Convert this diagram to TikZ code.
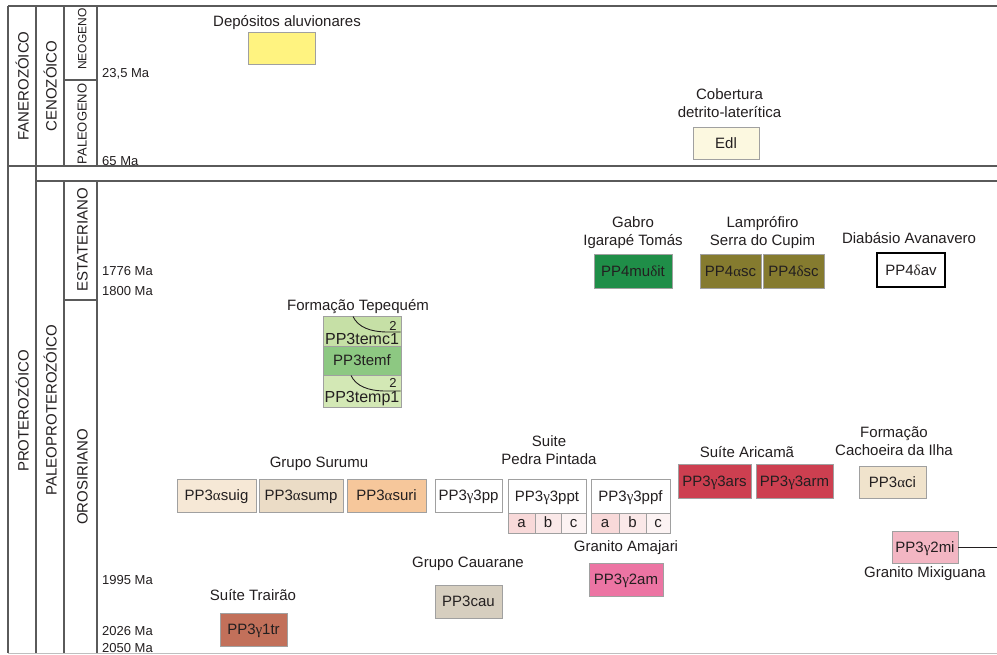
\documentclass[tikz,border=0pt]{standalone}
\usepackage{fontspec}
\setmainfont{Liberation Sans}
\newfontfamily\grk{Liberation Serif}
\newcommand\GrA{{\grk α}}
\newcommand\GrG{{\grk γ}}
\newcommand\GrD{{\grk δ}}
\newcommand\twoline[2]{\begin{tabular}[b]{@{}c@{}}\smash{#1}\\\smash{#2}\end{tabular}}
\definecolor{txt}{HTML}{231F20}
\definecolor{bgrey}{HTML}{A0A0A0}
\definecolor{frm}{HTML}{5A5A5A}
\definecolor{cYel}{HTML}{FFF380}
\definecolor{cEdl}{HTML}{FCF8E0}
\definecolor{cGab}{HTML}{1F8E48}
\definecolor{cLam}{HTML}{857B2F}
\definecolor{cTc}{HTML}{C6E0A6}
\definecolor{cTf}{HTML}{8DC882}
\definecolor{cTp}{HTML}{D3E8B5}
\definecolor{cSuig}{HTML}{F6E8D6}
\definecolor{cSump}{HTML}{EBDCC6}
\definecolor{cSuri}{HTML}{F6C79B}
\definecolor{cA}{HTML}{F8D9D9}
\definecolor{cB}{HTML}{FAE8E8}
\definecolor{cC}{HTML}{FCF3F3}
\definecolor{cAm}{HTML}{EC74A3}
\definecolor{cCau}{HTML}{D6CEBF}
\definecolor{cTr}{HTML}{C2705A}
\definecolor{cAr}{HTML}{CD3F50}
\definecolor{cCi}{HTML}{F0E3CC}
\definecolor{cMi}{HTML}{F3B6C3}
\begin{document}
\begin{tikzpicture}[x=1pt,y=-1pt,
  hline/.style={draw=frm,line width=1.8pt},
  vline/.style={draw=frm,line width=1.2pt},
  era/.style={rotate=90,inner sep=0pt,text height=11pt,text depth=0pt,font=\fontsize{15}{18}\selectfont,text=txt},
  ma/.style={anchor=base west,inner sep=0pt,font=\fontsize{13}{15}\selectfont,text=txt},
  lab/.style={anchor=base,inner sep=0pt,font=\fontsize{15}{18}\selectfont,text=txt},
  unit/.style={draw=bgrey,line width=0.7pt,inner sep=0pt,text height=10.5pt,text depth=0pt,
    font=\fontsize{15}{18}\selectfont,text=txt},
  cell/.style={unit,text height=8pt},
  arcline/.style={draw=txt,line width=0.9pt},
  sup2/.style={anchor=base,inner sep=0pt,font=\fontsize{13}{15}\selectfont,text=txt}]
\useasboundingbox (0,0) rectangle (997,654);
\fill[white] (0,0) rectangle (997,654);
% frame
\draw[hline] (8,6) -- (997,6);
\draw[hline] (8,166) -- (997,166);
\draw[hline] (36,181) -- (997,181);
\draw[draw=black!25,line width=1pt] (8,653) -- (997,653);
\draw[vline] (8,6) -- (8,653);
\draw[vline] (36,6) -- (36,653);
\draw[vline] (64,6) -- (64,166) (64,181) -- (64,653);
\draw[vline] (97,6) -- (97,166) (97,181) -- (97,653);
\draw[vline] (64,80) -- (97,80);
\draw[vline] (64,300) -- (97,300);
% eras
\node[era] (fan) at (23,86) {FANEROZÓICO};
\node[era] (cen) at (51,86) {CENOZÓICO};
\node[era,text height=8.6pt,font=\fontsize{12}{14}\selectfont] (neo) at (82,39) {NEOGENO};
\node[era,text height=9.3pt,font=\fontsize{13}{15}\selectfont] (pal) at (82,124) {PALEOGENO};
\node[era] (pro) at (23,411) {PROTEROZÓICO};
\node[era] (ppr) at (51,410) {PALEOPROTEROZÓICO};
\node[era] (est) at (82,240) {ESTATERIANO};
\node[era] (oro) at (82,477) {OROSIRIANO};
% ages
\node[ma] (m1) at (102,77) {23,5 Ma};
\node[ma] (m2) at (102,165) {65 Ma};
\node[ma] (m3) at (102,275) {1776 Ma};
\node[ma] (m4) at (102,295) {1800 Ma};
\node[ma] (m5) at (102,584) {1995 Ma};
\node[ma] (m6) at (102,635) {2026 Ma};
\node[ma] (m7) at (102,652) {2050 Ma};
% labels
\node[lab] (ldep) at (287,26) {Depósitos aluvionares};
\node[lab] (lcob) at (729.5,117) {\twoline{Cobertura}{detrito-laterítica}};
\node[lab] (lgab) at (633,245) {\twoline{Gabro}{Igarapé Tomás}};
\node[lab] (llam) at (762.5,245) {\twoline{Lamprófiro}{Serra do Cupim}};
\node[lab] (ldia) at (909,243) {Diabásio Avanavero};
\node[lab] (ltep) at (358,310) {Formação Tepequém};
\node[lab] (lsur) at (319,467.5) {Grupo Surumu};
\node[lab] (lped) at (549,464) {\twoline{Suite}{Pedra Pintada}};
\node[lab] (lama) at (626,551) {Granito Amajari};
\node[lab] (lcau) at (468,567.5) {Grupo Cauarane};
\node[lab] (ltra) at (253,600) {Suíte Trairão};
\node[lab] (lari) at (747,457) {Suíte Aricamã};
\node[lab] (lcac) at (894,455) {\twoline{Formação}{Cachoeira da Ilha}};
\node[lab] (lmix) at (925,577.5) {Granito Mixiguana};
% units
\node[unit,fill=cYel,minimum width=67pt,minimum height=32pt] (yel) at (281.5,48) {};
\node[unit,fill=cEdl,minimum width=66pt,minimum height=32pt] (edl) at (726,143) {Edl};
\node[unit,fill=cGab,minimum width=78pt,minimum height=34pt] (gab) at (633,271) {PP4mu\GrD it};
\node[unit,fill=cLam,minimum width=61pt,minimum height=34pt] (lama) at (730.5,271) {PP4\GrA sc};
\node[unit,fill=cLam,minimum width=61pt,minimum height=34pt] (lamd) at (793.5,271) {PP4\GrD sc};
\node[unit,draw=black,line width=1.5pt,minimum width=68pt,minimum height=34pt] (dav) at (911,270) {PP4\GrD av};
\node[unit,fill=cTc,minimum width=78pt,minimum height=30pt,text height=28pt,text depth=2pt,font=\fontsize{16}{18}\selectfont] (temc) at (362,331) {PP3temc1};
\node[unit,fill=cTf,minimum width=78pt,minimum height=29pt] (temf) at (362,360.5) {PP3temf};
\node[unit,fill=cTp,minimum width=78pt,minimum height=32pt,text height=27pt,text depth=5pt,font=\fontsize{16}{18}\selectfont] (temp) at (362,391) {PP3temp1};
\draw[arcline] (353,316.5) .. controls (358,327) and (370,332) .. (388,332) -- (400.5,332);
\draw[arcline] (351,375.5) .. controls (356,386) and (368,391) .. (386,391) -- (400.5,391);
\node[sup2] (two1) at (393,330) {2};
\node[sup2] (two2) at (393,387.5) {2};
\node[unit,fill=cSuig,minimum width=79pt,minimum height=33pt] (suig) at (216.5,495.5) {PP3\GrA suig};
\node[unit,fill=cSump,minimum width=84pt,minimum height=33pt] (sump) at (301,495.5) {PP3\GrA sump};
\node[unit,fill=cSuri,minimum width=79pt,minimum height=33pt] (suri) at (386.5,495.5) {PP3\GrA suri};
\node[unit,fill=white,minimum width=67pt,minimum height=33pt] (pp) at (468.5,495.5) {PP3\GrG 3pp};
\node[unit,fill=white,minimum width=78pt,minimum height=34pt] (ppt) at (547,496) {PP3\GrG 3ppt};
\node[cell,fill=cA,minimum width=27pt,minimum height=20pt] (ppta) at (521.5,523) {a};
\node[cell,fill=cB,minimum width=26pt,minimum height=20pt] (pptb) at (548,523) {b};
\node[cell,fill=cC,minimum width=25pt,minimum height=20pt] (pptc) at (573.5,523) {c};
\node[unit,fill=white,minimum width=79pt,minimum height=34pt] (ppf) at (630.5,496) {PP3\GrG 3ppf};
\node[cell,fill=cA,minimum width=28pt,minimum height=20pt] (ppfa) at (605,523) {a};
\node[cell,fill=cB,minimum width=27pt,minimum height=20pt] (ppfb) at (632.5,523) {b};
\node[cell,fill=cC,minimum width=24pt,minimum height=20pt] (ppfc) at (658,523) {c};
\node[unit,fill=cAm,minimum width=74pt,minimum height=33pt] (am) at (626,579.5) {PP3\GrG 2am};
\node[unit,fill=cCau,minimum width=67pt,minimum height=33pt] (cau) at (468.5,601.5) {PP3cau};
\node[unit,fill=cTr,minimum width=67pt,minimum height=33pt] (tr) at (253.5,629.5) {PP3\GrG 1tr};
\node[unit,fill=cAr,minimum width=73pt,minimum height=34pt] (ars) at (714.5,481) {PP3\GrG 3ars};
\node[unit,fill=cAr,minimum width=77pt,minimum height=34pt] (arm) at (794.5,481) {PP3\GrG 3arm};
\node[unit,fill=cCi,minimum width=67pt,minimum height=32pt] (ci) at (892.5,482) {PP3\GrA ci};
\node[unit,fill=cMi,minimum width=66pt,minimum height=32pt] (mi) at (925,547) {PP3\GrG 2mi};
\coordinate (miend) at (997,547);
\draw[draw=txt,line width=1pt] (mi.east) -- (miend);
\end{tikzpicture}
\end{document}
